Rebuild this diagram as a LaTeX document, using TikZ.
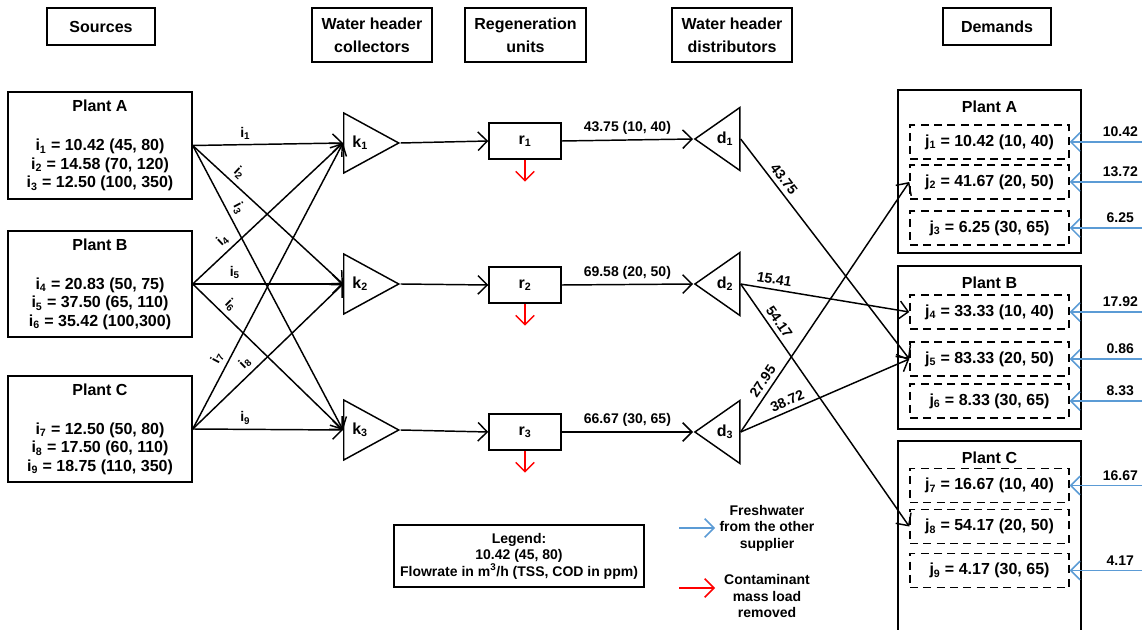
\documentclass[tikz,border=0pt]{standalone}
\usepackage{fontspec}
\setmainfont{Liberation Sans}
\usetikzlibrary{shapes.geometric,arrows.meta,positioning}
\definecolor{fwblue}{RGB}{91,155,213}
\begin{document}
\begin{tikzpicture}[x=0.75pt, y=-0.75pt,
  every node/.style={font=\fontsize{12}{13.9}\selectfont\bfseries, text=black},
  box/.style={draw, line width=1.1pt, align=center, inner sep=0pt},
  head/.style={box, font=\fontsize{12}{17}\selectfont\bfseries},
  coll/.style={draw, line width=1.1pt, isosceles triangle, isosceles triangle stretches, inner sep=0pt, minimum width=45pt, minimum height=41.25pt},
  dist/.style={coll, shape border rotate=180, minimum width=47.25pt, minimum height=33.75pt},
  dem/.style={draw, line width=1.1pt, dash pattern=on 6pt off 4pt, minimum width=119.25pt, minimum height=25.5pt, inner sep=0pt},
  val/.style={font=\fontsize{10.5}{12.4}\selectfont\bfseries, text=black},
  flow/.style={line width=1.1pt, -{Straight Barb[length=7pt,width=14pt]}},
  fresh/.style={flow, fwblue},
  load/.style={flow, red}]
  \useasboundingbox (0,0) rectangle (1142,630);
  % column heads
  \node[head, minimum width=81pt, minimum height=27.75pt] (hs) at (101,26.5) {Sources};
  \node[head, minimum width=90pt, minimum height=40.5pt] (hc) at (372,35) {Water header\\collectors};
  \node[head, minimum width=90.75pt, minimum height=40.5pt] (hr) at (525.5,35) {Regeneration\\units};
  \node[head, minimum width=90pt, minimum height=40.5pt] (hd) at (732,35) {Water header\\distributors};
  \node[head, minimum width=81pt, minimum height=27.75pt] (hm) at (997,26.5) {Demands};
  % sources
  \node[box, minimum width=138pt, minimum height=80.25pt] (sA) at (100,145.5) {Plant A\\[15.4pt]i\textsubscript{1} = 10.42 (45, 80)\\i\textsubscript{2} = 14.58 (70, 120)\\i\textsubscript{3} = 12.50 (100, 350)};
  \node[box, minimum width=138pt, minimum height=79.5pt] (sB) at (100,284) {Plant B\\[15.4pt]i\textsubscript{4} = 20.83 (50, 75)\\i\textsubscript{5} = 37.50 (65, 110)\\i\textsubscript{6} = 35.42 (100,300)};
  \node[box, minimum width=138pt, minimum height=79.5pt] (sC) at (100,429) {Plant C\\[15.4pt]i\textsubscript{7} = 12.50 (50, 80)\\i\textsubscript{8} = 17.50 (60, 110)\\i\textsubscript{9} = 18.75 (110, 350)};
  % collectors, regeneration, distributors
  \node[coll, anchor=west] (k1) at (343,143) {k\textsubscript{1}};
  \node[coll, anchor=west] (k2) at (343,284) {k\textsubscript{2}};
  \node[coll, anchor=west] (k3) at (343,430) {k\textsubscript{3}};
  \node[box, minimum width=54pt, minimum height=27pt] (r1) at (525,141) {r\textsubscript{1}};
  \node[box, minimum width=54pt, minimum height=27pt] (r2) at (525,285) {r\textsubscript{2}};
  \node[box, minimum width=54pt, minimum height=27pt] (r3) at (525,432) {r\textsubscript{3}};
  \node[dist, anchor=west] (d1) at (693,139) {d\textsubscript{1}};
  \node[dist, anchor=west] (d2) at (693,284) {d\textsubscript{2}};
  \node[dist, anchor=west] (d3) at (693,432) {d\textsubscript{3}};
  % demands
  \node[box, minimum width=137.25pt, minimum height=122.25pt] (pA) at (989.5,171.5) {};
  \node[box, minimum width=137.25pt, minimum height=122.25pt] (pB) at (989.5,347.5) {};
  \node[box, minimum width=137.25pt, minimum height=156.75pt] (pC) at (989.5,545.5) {};
  \node (tA) at (989.5,107) {Plant A};
  \node (tB) at (989.5,283) {Plant B};
  \node (tC) at (989.5,458) {Plant C};
  \node[dem] (j1) at (989.5,142) {j\textsubscript{1} = 10.42 (10, 40)};
  \node[dem] (j2) at (989.5,182) {j\textsubscript{2} = 41.67 (20, 50)};
  \node[dem] (j3) at (989.5,228) {j\textsubscript{3} = 6.25 (30, 65)};
  \node[dem] (j4) at (989.5,312) {j\textsubscript{4} = 33.33 (10, 40)};
  \node[dem] (j5) at (989.5,359) {j\textsubscript{5} = 83.33 (20, 50)};
  \node[dem] (j6) at (989.5,401) {j\textsubscript{6} = 8.33 (30, 65)};
  \node[dem] (j7) at (989.5,485.5) {j\textsubscript{7} = 16.67 (10, 40)};
  \node[dem] (j8) at (989.5,526.5) {j\textsubscript{8} = 54.17 (20, 50)};
  \node[dem] (j9) at (989.5,570.5) {j\textsubscript{9} = 4.17 (30, 65)};
  % sources to collectors
  \draw[flow] (sA.east) -- node[val, above, pos=.35] {i\textsubscript{1}} (k1.west);
  \draw[flow] (sA.east) -- node[val, above, sloped, pos=.26] {i\textsubscript{2}} (k2.west);
  \draw[flow] (sA.east) -- node[val, above, sloped, pos=.24] {i\textsubscript{3}} (k3.west);
  \draw[flow] (sB.east) -- node[val, above, sloped, pos=.25] {i\textsubscript{4}} (k1.west);
  \draw[flow] (sB.east) -- node[val, above, pos=.28] {i\textsubscript{5}} (k2.west);
  \draw[flow] (sB.east) -- node[val, above, sloped, pos=.2] {i\textsubscript{6}} (k3.west);
  \draw[flow] (sC.east) -- node[val, above, sloped, pos=.23] {i\textsubscript{7}} (k1.west);
  \draw[flow] (sC.east) -- node[val, above, sloped, pos=.4] {i\textsubscript{8}} (k2.west);
  \draw[flow] (sC.east) -- node[val, above, pos=.35] {i\textsubscript{9}} (k3.west);
  % collectors to regeneration to distributors
  \draw[flow] (k1.east) -- (r1.west);
  \draw[flow] (k2.east) -- (r2.west);
  \draw[flow] (k3.east) -- (r3.west);
  \draw[flow] (r1.east) -- node[val, above] {43.75 (10, 40)} (d1.west);
  \draw[flow] (r2.east) -- node[val, above] {69.58 (20, 50)} (d2.west);
  \draw[flow] (r3.east) -- node[val, above] {66.67 (30, 65)} (d3.west);
  \coordinate[below=16.5pt of r1] (m1);
  \coordinate[below=16.5pt of r2] (m2);
  \coordinate[below=16.5pt of r3] (m3);
  \draw[load] (r1.south) -- (m1);
  \draw[load] (r2.south) -- (m2);
  \draw[load] (r3.south) -- (m3);
  % distributors to demands
  \draw[flow] (d1.east) -- node[val, above, sloped, pos=.21] {43.75} (j5.west);
  \draw[flow] (d2.east) -- node[val, above, sloped, pos=.19] {15.41} (j4.west);
  \draw[flow] (d2.east) -- node[val, above, sloped, pos=.18] {54.17} (j8.west);
  \draw[flow] (d3.east) -- node[val, above, sloped, pos=.18] {27.95} (j2.west);
  \draw[flow] (d3.east) -- node[val, above, sloped, pos=.3] {38.72} (j5.west);
  % freshwater
  \coordinate (rim) at (1142,0);
  \draw[fresh] (j1.east -| rim) -- node[val, above, pos=.3] {10.42} (j1.east);
  \draw[fresh] (j2.east -| rim) -- node[val, above, pos=.3] {13.72} (j2.east);
  \draw[fresh] (j3.east -| rim) -- node[val, above, pos=.3] {6.25} (j3.east);
  \draw[fresh] (j4.east -| rim) -- node[val, above, pos=.3] {17.92} (j4.east);
  \draw[fresh] (j5.east -| rim) -- node[val, above, pos=.3] {0.86} (j5.east);
  \draw[fresh] (j6.east -| rim) -- node[val, above, pos=.3] {8.33} (j6.east);
  \draw[fresh] (j7.east -| rim) -- node[val, above, pos=.3] {16.67} (j7.east);
  \draw[fresh] (j9.east -| rim) -- node[val, above, pos=.3] {4.17} (j9.east);
  % legend
  \node[box, minimum width=187.5pt, minimum height=46.5pt, font=\fontsize{10.5}{12.4}\selectfont\bfseries] (leg) at (519,556) {Legend:\\10.42 (45, 80)\\Flowrate in m\textsuperscript{3}/h (TSS, COD in ppm)};
  \node[val, align=center] (fwt) at (767,528) {Freshwater\\from the other\\supplier};
  \node[val, align=center] (clt) at (767,596) {Contaminant\\mass load\\removed};
  \coordinate (fw0) at (679,528);
  \coordinate (fw1) at (715,528);
  \coordinate (cl0) at (679,588);
  \coordinate (cl1) at (715,588);
  \draw[fresh] (fw0) -- (fw1);
  \draw[load] (cl0) -- (cl1);
\end{tikzpicture}
\end{document}
